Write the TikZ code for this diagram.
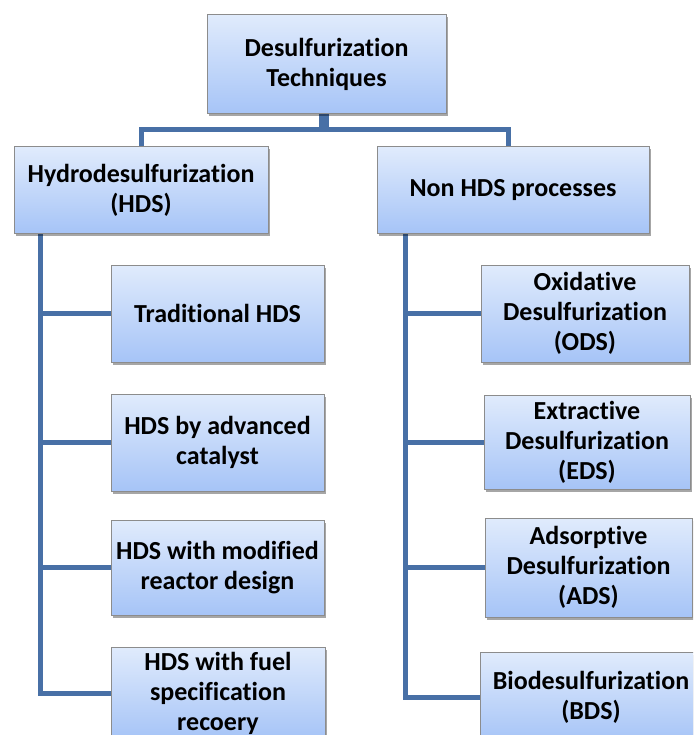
\documentclass[tikz,border=0pt]{standalone}
\usepackage{fontspec}
\setmainfont{Carlito}[Ligatures=NoCommon]
\usetikzlibrary{shadows,backgrounds}
\definecolor{linkblue}{RGB}{72,112,166}
\definecolor{boxtop}{RGB}{224,235,252}
\definecolor{boxbot}{RGB}{166,196,247}
\definecolor{boxedge}{RGB}{140,140,140}
\tikzset{
  px/.style={x=1pt,y=-1pt},
  bx/.style={draw=boxedge, line width=1pt, top color=boxtop, bottom color=boxbot,
    align=center, inner sep=0pt, font=\fontsize{26}{30}\selectfont\bfseries,
    drop shadow={shadow xshift=2pt, shadow yshift=-2.5pt, opacity=0.35, fill=black}},
  link/.style={draw=linkblue, line width=5pt}
}
\newcommand{\bxat}[6]{% name, x1, y1, x2, y2, text
  \node[bx, minimum width={(#4-#2)*1pt}, minimum height={(#5-#3)*1pt}] (#1) at ({(#2+#4)/2},{(#3+#5)/2}) {#6};}
\begin{document}
\begin{tikzpicture}[px]
\useasboundingbox (0,0) rectangle (693,735);
\clip (0,0) rectangle (693,735);
\coordinate (lx) at (40,233);
\coordinate (rx) at (405,233);
\coordinate (hub) at (324,129.5);
\bxat{top}{207}{15}{446}{114}{Desulfurization\\Techniques}
\bxat{hds}{14}{147}{268}{233}{Hydrodesulfurization\\(HDS)}
\bxat{non}{377}{147}{649}{233}{Non HDS processes}
\bxat{trad}{111}{265}{324}{362}{Traditional HDS}
\bxat{adv}{111}{394}{324}{491}{HDS by advanced\\catalyst}
\bxat{mod}{111}{520}{324}{615}{HDS with modified\\reactor design}
\bxat{fuel}{111}{647}{325}{739}{HDS with fuel\\specification\\recoery}
\bxat{ods}{481}{265}{689}{362}{Oxidative\\Desulfurization\\(ODS)}
\bxat{eds}{484}{395}{690}{489}{Extractive\\Desulfurization\\(EDS)}
\bxat{ads}{485}{518}{692}{617}{Adsorptive\\Desulfurization\\(ADS)}
\bxat{bds}{480}{652}{702}{742}{Biodesulfurization\\(BDS)}
\begin{scope}[on background layer]
\fill[white] (0,0) rectangle (693,735);
\path[link] ([xshift=-2.5pt]hub |- top.south) -- ([xshift=-2.5pt]hub);
\path[link] ([xshift=2.5pt]hub |- top.south) -- ([xshift=2.5pt]hub);
\path[link] (hub) -| (hds.north);
\path[link] (hub) -| ([xshift=-5pt]non.north);
\path[link] (lx) |- (fuel.west);
\path[link] (lx |- trad.west) -- (trad.west);
\path[link] (lx |- adv.west) -- (adv.west);
\path[link] (lx |- mod.west) -- (mod.west);
\path[link] (rx) |- (bds.west);
\path[link] (rx |- ods.west) -- (ods.west);
\path[link] (rx |- eds.west) -- (eds.west);
\path[link] (rx |- ads.west) -- (ads.west);
\end{scope}
\end{tikzpicture}
\end{document}
